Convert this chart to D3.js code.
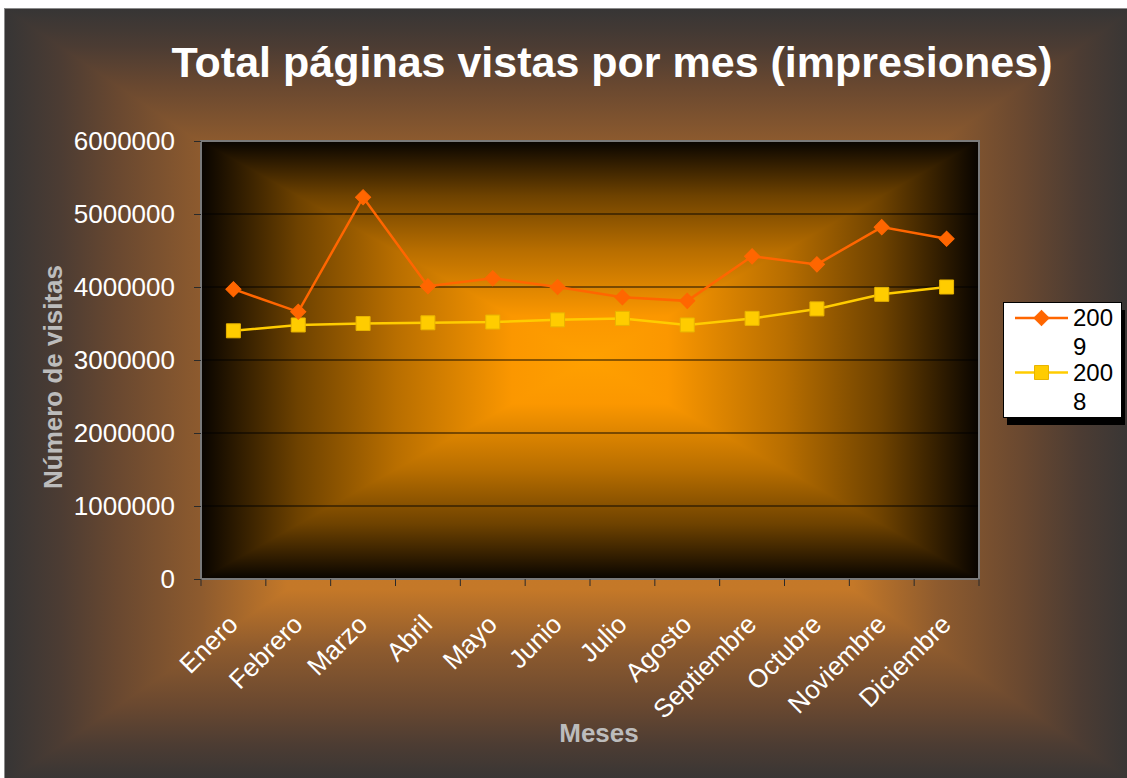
<!DOCTYPE html>
<html><head><meta charset="utf-8">
<script src="https://cdn.jsdelivr.net/npm/d3@7"></script>
<style>body{margin:0;background:#fff;} svg{display:block;}</style>
</head><body>
<svg id="c" width="1127" height="778"></svg>
<script>
const months = ["Enero","Febrero","Marzo","Abril","Mayo","Junio","Julio","Agosto","Septiembre","Octubre","Noviembre","Diciembre"];
const values2009 = [3970000,3660000,5230000,4010000,4120000,4000000,3860000,3810000,4420000,4310000,4820000,4660000];
const values2008 = [3400000,3480000,3500000,3510000,3520000,3550000,3570000,3480000,3570000,3700000,3900000,4000000];
const yTicks = [0,1000000,2000000,3000000,4000000,5000000,6000000];
const seriesNames = [["200","9"],["200","8"]];
const titleText = "Total páginas vistas por mes (impresiones)";
const yTitle = "Número de visitas";
const xTitle = "Meses";

const FONT = "'Liberation Sans', Arial, Helvetica, sans-serif";
const svg = d3.select("#c");
const defs = svg.append("defs");

function rectGradient(id, x0, y0, x1, y1, stops) {
  const cx = (x0 + x1) / 2, cy = (y0 + y1) / 2;
  const g = svg.append("g");
  const parts = [
    {k: "l", tx: x0, ty: cy, d: `M${x0},${y0}H${cx}V${y1}H${x0}Z`},
    {k: "r", tx: x1, ty: cy, d: `M${cx},${y0}H${x1}V${y1}H${cx}Z`},
    {k: "t", tx: cx, ty: y0, d: `M${x0},${y0}L${x1},${y0}L${cx},${cy}Z`},
    {k: "b", tx: cx, ty: y1, d: `M${x0},${y1}L${x1},${y1}L${cx},${cy}Z`}
  ];
  parts.forEach(p => {
    const lg = defs.append("linearGradient").attr("id", id + p.k)
      .attr("gradientUnits", "userSpaceOnUse")
      .attr("x1", cx).attr("y1", cy).attr("x2", p.tx).attr("y2", p.ty);
    stops.forEach(s => lg.append("stop").attr("offset", s[0]).attr("stop-color", s[1]));
    g.append("path").attr("d", p.d).attr("fill", `url(#${id + p.k})`);
  });
  return g;
}

// Chart area background
rectGradient("outer", 4, 8, 1136, 784, [
  [0, "#c97b29"], [0.5, "#c47828"], [0.65, "#8e5b2e"], [0.8, "#694830"], [0.9, "#4c3c33"], [1, "#363535"]
]);
svg.append("rect").attr("x", 4.5).attr("y", 8.5).attr("width", 1140).attr("height", 790)
  .attr("fill", "none").attr("stroke", "#8a8a8a").attr("stroke-width", 1);

// Plot area
const P = {l: 201, t: 141, r: 979, b: 579};
rectGradient("plot", P.l, P.t, P.r, P.b, [
  [0, "#ffa000"], [0.2, "#fb9700"], [0.5, "#b86e00"], [0.75, "#6e4200"], [1, "#080400"]
]);

const y = d3.scaleLinear().domain([0, 6000000]).range([P.b, P.t]);
const x = d3.scaleBand().domain(months).range([P.l, P.r]);
const cxOf = m => x(m) + x.bandwidth() / 2;

// gridlines
svg.append("g").selectAll("line").data(yTicks.filter(v => v > 0 && v < 6000000)).join("line")
  .attr("x1", P.l).attr("x2", P.r).attr("y1", d => y(d)).attr("y2", d => y(d))
  .attr("stroke", "#000").attr("stroke-opacity", 0.9).attr("stroke-width", 1);

// plot border
svg.append("rect").attr("x", P.l).attr("y", P.t).attr("width", P.r - P.l).attr("height", P.b - P.t)
  .attr("fill", "none").attr("stroke", "#7a7a7a").attr("stroke-width", 2);

// y axis
const yAxis = svg.append("g").attr("transform", `translate(${P.l},0)`)
  .call(d3.axisLeft(y).tickValues(yTicks).tickFormat(d3.format("d")).tickSize(7).tickPadding(19));
yAxis.select(".domain").remove();
yAxis.selectAll("line").attr("stroke", "#2a2a2a");
yAxis.selectAll("text").attr("fill", "#fff").style("font-family", FONT).style("font-size", "26px");

// x axis
const xAxis = svg.append("g").attr("transform", `translate(0,${P.b})`)
  .call(d3.axisBottom(x).tickSize(0).tickPadding(0));
xAxis.select(".domain").remove();
xAxis.selectAll("text")
  .attr("fill", "#fff").style("font-family", FONT).style("font-size", "26px")
  .attr("text-anchor", "end").attr("dy", null).attr("y", null)
  .attr("transform", "translate(6,47) rotate(-45)");
const bounds = months.map(m => x(m)).concat([x.range()[1]]);
svg.append("g").selectAll("line").data(bounds).join("line")
  .attr("x1", d => d).attr("x2", d => d).attr("y1", P.b).attr("y2", P.b + 7)
  .attr("stroke", "#2a2a2a").attr("stroke-width", 1);

// series
const line = d3.line().x((d, i) => cxOf(months[i])).y(d => y(d));
svg.append("path").datum(values2008).attr("d", line).attr("fill", "none")
  .attr("stroke", "#ffcc00").attr("stroke-width", 2.5);
svg.append("path").datum(values2009).attr("d", line).attr("fill", "none")
  .attr("stroke", "#ff6600").attr("stroke-width", 2.5);

const sq = d3.symbol().type(d3.symbolSquare).size(196);
const dia = d3.symbol().type(d3.symbolSquare).size(115);
svg.append("g").selectAll("path").data(values2008).join("path")
  .attr("d", sq).attr("transform", (d, i) => `translate(${cxOf(months[i])},${y(d)})`)
  .attr("fill", "#ffcc00").attr("stroke", "#e8b400").attr("stroke-width", 1);
svg.append("g").selectAll("path").data(values2009).join("path")
  .attr("d", dia).attr("transform", (d, i) => `translate(${cxOf(months[i])},${y(d)}) rotate(45)`)
  .attr("fill", "#ff6600").attr("stroke", "#ff6600").attr("stroke-width", 1);

// titles
svg.append("text").attr("x", 612).attr("y", 77).attr("text-anchor", "middle")
  .attr("fill", "#fff").style("font-family", FONT).style("font-weight", "bold").style("font-size", "43px")
  .text(titleText);
svg.append("text").attr("transform", "translate(62,377) rotate(-90)").attr("text-anchor", "middle")
  .attr("fill", "#bcbcbc").style("font-family", FONT).style("font-weight", "bold").style("font-size", "26px")
  .text(yTitle);
svg.append("text").attr("x", 599).attr("y", 742).attr("text-anchor", "middle")
  .attr("fill", "#bcbcbc").style("font-family", FONT).style("font-weight", "bold").style("font-size", "26px")
  .text(xTitle);

// legend
const L = {x: 1003, y: 302, w: 118, h: 115};
svg.append("rect").attr("x", L.x + 4).attr("y", L.y + 8).attr("width", L.w).attr("height", L.h).attr("fill", "#000");
svg.append("rect").attr("x", L.x + 0.5).attr("y", L.y + 0.5).attr("width", L.w).attr("height", L.h)
  .attr("fill", "#fff").attr("stroke", "#000").attr("stroke-width", 1);
const legendItems = [
  {name: seriesNames[0], color: "#ff6600", sym: dia, rot: 45, stroke: "#ff6600"},
  {name: seriesNames[1], color: "#ffcc00", sym: sq, rot: 0, stroke: "#e8b400"}
];
legendItems.forEach((it, i) => {
  const ly = 318 + i * 54.5;
  svg.append("line").attr("x1", 1015).attr("x2", 1068).attr("y1", ly).attr("y2", ly)
    .attr("stroke", it.color).attr("stroke-width", 2.5);
  svg.append("path").attr("d", it.sym).attr("transform", `translate(1041.5,${ly}) rotate(${it.rot})`)
    .attr("fill", it.color).attr("stroke", it.stroke);
  const t = svg.append("text").attr("fill", "#000").style("font-family", FONT).style("font-size", "24px");
  it.name.forEach((s, j) => t.append("tspan").attr("x", 1073).attr("y", ly + 8 + j * 29).text(s));
});
</script>
</body></html>
